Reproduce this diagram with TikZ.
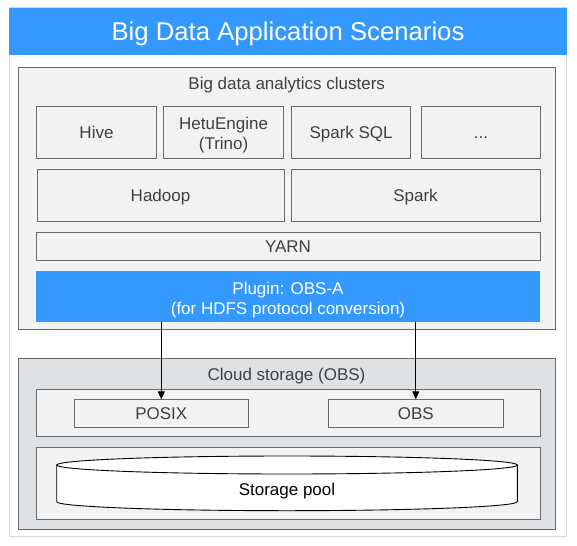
\documentclass[tikz,border=0pt]{standalone}
\usepackage{fontspec}
\setmainfont{Liberation Sans}
\usetikzlibrary{arrows.meta}
\definecolor{hwblue}{HTML}{3399FF}
\definecolor{boxfill}{HTML}{F2F2F2}
\definecolor{boxline}{HTML}{6B6B6B}
\definecolor{cloudfill}{HTML}{DFE2E4}
\definecolor{frameline}{HTML}{D6D6D6}
\definecolor{txt}{HTML}{404040}
\tikzset{
  fnt/.style={font=\fontsize{17}{19.8}\selectfont},
  one/.style={text height=16.2pt, text depth=3.8pt},
  lbl/.style={fnt, text=txt, align=center, inner sep=0pt},
  box/.style={draw=boxline, fill=boxfill, line width=1pt, inner sep=0pt, outer sep=0pt,
              fnt, one, text=txt, align=center},
  group/.style={draw=boxline, line width=1pt, inner sep=0pt, outer sep=0pt},
  bluebox/.style={fill=hwblue, inner sep=0pt, outer sep=0pt, text=white, align=center, fnt},
  arr/.style={draw=black, line width=1pt, -{Triangle[length=8pt,width=7pt]}}
}
\begin{document}
\begin{tikzpicture}[x=1pt,y=-1pt]
\useasboundingbox (0,0) rectangle (577,545);
\fill[white] (0,0) rectangle (577,545);
% outer frame
\node[draw=frameline, line width=1pt, fill=white, inner sep=0pt, minimum width=557.5pt, minimum height=528.5pt] (frame) at (287.75,272.25) {};
% title
\node[bluebox, minimum width=558pt, minimum height=47pt, font=\fontsize{25.7}{30}\selectfont, text height=25pt, text depth=6pt] (title) at (288,31.5) {Big Data Application Scenarios};
% analytics cluster group
\node[group, fill=boxfill, minimum width=537pt, minimum height=262pt] (clusters) at (286.8,198.3) {};
\node[lbl, one] (clustlbl) at (286.7,83.3) {Big data analytics clusters};
% row 1
\node[box, minimum width=120.4pt, minimum height=52pt] (hive) at (96.5,132.4) {Hive};
\node[box, minimum width=120.5pt, minimum height=52pt] (hetu) at (223.6,132.4) {};
\node[lbl] (hetutxt) at (223.6,135) {HetuEngine\\(Trino)};
\node[box, minimum width=119pt, minimum height=52pt] (sparksql) at (351.1,132.4) {Spark SQL};
\node[box, minimum width=119.4pt, minimum height=52pt] (dots) at (481,132.4) {...};
% row 2
\node[box, minimum width=247pt, minimum height=52pt] (hadoop) at (160.5,195.3) {Hadoop};
\node[box, minimum width=249pt, minimum height=52pt] (spark) at (415.5,195.3) {Spark};
% YARN
\node[box, minimum width=504pt, minimum height=28pt] (yarn) at (288,246.2) {YARN};
% plugin
\node[bluebox, minimum width=504pt, minimum height=51pt] (plugin) at (288,296.4) {};
\node[lbl, text=white] (plugintxt) at (288,300) {Plugin: OBS-A\\(for HDFS protocol conversion)};
% cloud storage group
\node[group, fill=cloudfill, minimum width=537pt, minimum height=171pt] (cloud) at (286.8,443.8) {};
\node[lbl, one] (cloudlbl) at (286.5,374.5) {Cloud storage (OBS)};
\node[box, minimum width=503.7pt, minimum height=47pt] (iface) at (288.2,412.8) {};
\node[box, minimum width=174pt, minimum height=28pt] (posix) at (161.3,413.3) {POSIX};
\node[box, minimum width=175pt, minimum height=28pt] (obs) at (415.8,413.3) {OBS};
\node[box, minimum width=503.7pt, minimum height=72pt] (poolbox) at (288.2,483.3) {};
% cylinder
\filldraw[draw=black, fill=white, line width=0.9pt]
  (56.7,465) -- (56.7,501.7) arc[start angle=180, end angle=360, x radius=230.3pt, y radius=9pt] -- (517.3,465) -- cycle;
\filldraw[draw=black, fill=white, line width=0.9pt] (287,465) ellipse[x radius=230.3pt, y radius=9pt];
\node[lbl, one, text=black] (pool) at (287,489.5) {Storage pool};
% arrows
\draw[arr] (posix.north |- plugin.south) -- (posix.north);
\draw[arr] (obs.north |- plugin.south) -- (obs.north);
\end{tikzpicture}
\end{document}
